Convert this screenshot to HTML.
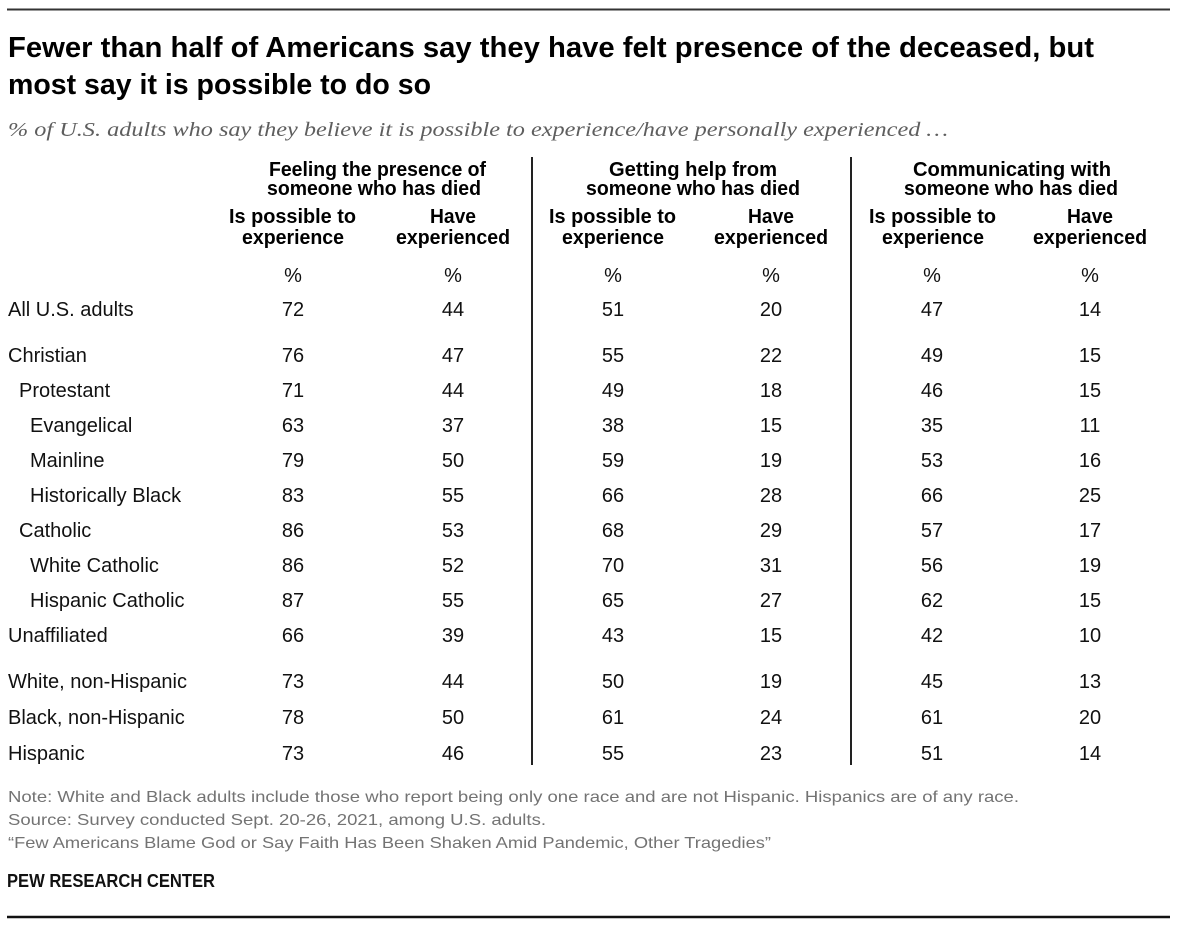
<!DOCTYPE html>
<html>
<head>
<meta charset="utf-8">
<style>
html,body{margin:0;padding:0;background:#fff;}
svg{display:block;}
text{font-family:"Liberation Sans",sans-serif;}
.t{font-weight:bold;font-size:28.5px;fill:#000;}
.sub{font-family:"Liberation Serif",serif;font-style:italic;font-size:20px;fill:#5e5e5e;}
.h{font-weight:bold;font-size:20px;fill:#000;}
.lab{font-size:20px;fill:#111;}
.n{font-size:20px;fill:#111;text-anchor:middle;}
.f{font-size:16px;fill:#737373;}
.pew{font-weight:bold;font-size:18px;fill:#111;}
</style>
</head>
<body>
<svg width="1200" height="935" viewBox="0 0 1200 935" xmlns="http://www.w3.org/2000/svg">
<rect width="1200" height="935" fill="#fff"/>
<line x1="7" y1="9.5" x2="1170" y2="9.5" stroke="#333" stroke-width="2"/>

<text class="t" x="8" y="57" textLength="1086" lengthAdjust="spacingAndGlyphs">Fewer than half of Americans say they have felt presence of the deceased, but</text>
<text class="t" x="8" y="94" textLength="423" lengthAdjust="spacingAndGlyphs">most say it is possible to do so</text>

<text class="sub" x="8" y="136" textLength="940" lengthAdjust="spacingAndGlyphs">% of U.S. adults who say they believe it is possible to experience/have personally experienced …</text>

<line x1="532" y1="157" x2="532" y2="765" stroke="#222" stroke-width="2"/>
<line x1="851" y1="157" x2="851" y2="765" stroke="#222" stroke-width="2"/>

<text class="h" x="269" y="176" textLength="217" lengthAdjust="spacingAndGlyphs">Feeling the presence of</text>
<text class="h" x="267" y="195" textLength="214" lengthAdjust="spacingAndGlyphs">someone who has died</text>
<text class="h" x="609" y="176" textLength="168" lengthAdjust="spacingAndGlyphs">Getting help from</text>
<text class="h" x="586" y="195" textLength="214" lengthAdjust="spacingAndGlyphs">someone who has died</text>
<text class="h" x="913" y="176" textLength="198" lengthAdjust="spacingAndGlyphs">Communicating with</text>
<text class="h" x="904" y="195" textLength="214" lengthAdjust="spacingAndGlyphs">someone who has died</text>

<g>
<text class="h" x="229" y="223" textLength="127" lengthAdjust="spacingAndGlyphs">Is possible to</text>
<text class="h" x="242" y="244" textLength="102" lengthAdjust="spacingAndGlyphs">experience</text>
<text class="h" x="430" y="223" textLength="46" lengthAdjust="spacingAndGlyphs">Have</text>
<text class="h" x="396" y="244" textLength="114" lengthAdjust="spacingAndGlyphs">experienced</text>

<text class="h" x="549" y="223" textLength="127" lengthAdjust="spacingAndGlyphs">Is possible to</text>
<text class="h" x="562" y="244" textLength="102" lengthAdjust="spacingAndGlyphs">experience</text>
<text class="h" x="748" y="223" textLength="46" lengthAdjust="spacingAndGlyphs">Have</text>
<text class="h" x="714" y="244" textLength="114" lengthAdjust="spacingAndGlyphs">experienced</text>

<text class="h" x="869" y="223" textLength="127" lengthAdjust="spacingAndGlyphs">Is possible to</text>
<text class="h" x="882" y="244" textLength="102" lengthAdjust="spacingAndGlyphs">experience</text>
<text class="h" x="1067" y="223" textLength="46" lengthAdjust="spacingAndGlyphs">Have</text>
<text class="h" x="1033" y="244" textLength="114" lengthAdjust="spacingAndGlyphs">experienced</text>
</g>

<g>
<text class="n" x="293" y="282">%</text>
<text class="n" x="453" y="282">%</text>
<text class="n" x="613" y="282">%</text>
<text class="n" x="771" y="282">%</text>
<text class="n" x="932" y="282">%</text>
<text class="n" x="1090" y="282">%</text>
</g>

<g>
<text class="lab" x="8" y="316">All U.S. adults</text>
<text class="n" x="293" y="316">72</text><text class="n" x="453" y="316">44</text><text class="n" x="613" y="316">51</text><text class="n" x="771" y="316">20</text><text class="n" x="932" y="316">47</text><text class="n" x="1090" y="316">14</text>

<text class="lab" x="8" y="362">Christian</text>
<text class="n" x="293" y="362">76</text><text class="n" x="453" y="362">47</text><text class="n" x="613" y="362">55</text><text class="n" x="771" y="362">22</text><text class="n" x="932" y="362">49</text><text class="n" x="1090" y="362">15</text>

<text class="lab" x="19" y="397">Protestant</text>
<text class="n" x="293" y="397">71</text><text class="n" x="453" y="397">44</text><text class="n" x="613" y="397">49</text><text class="n" x="771" y="397">18</text><text class="n" x="932" y="397">46</text><text class="n" x="1090" y="397">15</text>

<text class="lab" x="30" y="432">Evangelical</text>
<text class="n" x="293" y="432">63</text><text class="n" x="453" y="432">37</text><text class="n" x="613" y="432">38</text><text class="n" x="771" y="432">15</text><text class="n" x="932" y="432">35</text><text class="n" x="1090" y="432">11</text>

<text class="lab" x="30" y="467">Mainline</text>
<text class="n" x="293" y="467">79</text><text class="n" x="453" y="467">50</text><text class="n" x="613" y="467">59</text><text class="n" x="771" y="467">19</text><text class="n" x="932" y="467">53</text><text class="n" x="1090" y="467">16</text>

<text class="lab" x="30" y="502">Historically Black</text>
<text class="n" x="293" y="502">83</text><text class="n" x="453" y="502">55</text><text class="n" x="613" y="502">66</text><text class="n" x="771" y="502">28</text><text class="n" x="932" y="502">66</text><text class="n" x="1090" y="502">25</text>

<text class="lab" x="19" y="537">Catholic</text>
<text class="n" x="293" y="537">86</text><text class="n" x="453" y="537">53</text><text class="n" x="613" y="537">68</text><text class="n" x="771" y="537">29</text><text class="n" x="932" y="537">57</text><text class="n" x="1090" y="537">17</text>

<text class="lab" x="30" y="572">White Catholic</text>
<text class="n" x="293" y="572">86</text><text class="n" x="453" y="572">52</text><text class="n" x="613" y="572">70</text><text class="n" x="771" y="572">31</text><text class="n" x="932" y="572">56</text><text class="n" x="1090" y="572">19</text>

<text class="lab" x="30" y="607">Hispanic Catholic</text>
<text class="n" x="293" y="607">87</text><text class="n" x="453" y="607">55</text><text class="n" x="613" y="607">65</text><text class="n" x="771" y="607">27</text><text class="n" x="932" y="607">62</text><text class="n" x="1090" y="607">15</text>

<text class="lab" x="8" y="642">Unaffiliated</text>
<text class="n" x="293" y="642">66</text><text class="n" x="453" y="642">39</text><text class="n" x="613" y="642">43</text><text class="n" x="771" y="642">15</text><text class="n" x="932" y="642">42</text><text class="n" x="1090" y="642">10</text>

<text class="lab" x="8" y="688">White, non-Hispanic</text>
<text class="n" x="293" y="688">73</text><text class="n" x="453" y="688">44</text><text class="n" x="613" y="688">50</text><text class="n" x="771" y="688">19</text><text class="n" x="932" y="688">45</text><text class="n" x="1090" y="688">13</text>

<text class="lab" x="8" y="724">Black, non-Hispanic</text>
<text class="n" x="293" y="724">78</text><text class="n" x="453" y="724">50</text><text class="n" x="613" y="724">61</text><text class="n" x="771" y="724">24</text><text class="n" x="932" y="724">61</text><text class="n" x="1090" y="724">20</text>

<text class="lab" x="8" y="760">Hispanic</text>
<text class="n" x="293" y="760">73</text><text class="n" x="453" y="760">46</text><text class="n" x="613" y="760">55</text><text class="n" x="771" y="760">23</text><text class="n" x="932" y="760">51</text><text class="n" x="1090" y="760">14</text>
</g>

<text class="f" x="8" y="802" textLength="1011" lengthAdjust="spacingAndGlyphs">Note: White and Black adults include those who report being only one race and are not Hispanic. Hispanics are of any race.</text>
<text class="f" x="8" y="825" textLength="538" lengthAdjust="spacingAndGlyphs">Source: Survey conducted Sept. 20-26, 2021, among U.S. adults.</text>
<text class="f" x="8" y="848" textLength="763" lengthAdjust="spacingAndGlyphs">“Few Americans Blame God or Say Faith Has Been Shaken Amid Pandemic, Other Tragedies”</text>
<text class="pew" x="7" y="887" textLength="208" lengthAdjust="spacingAndGlyphs">PEW RESEARCH CENTER</text>

<line x1="7" y1="917" x2="1170" y2="917" stroke="#111" stroke-width="2.5"/>
</svg>
</body>
</html>
